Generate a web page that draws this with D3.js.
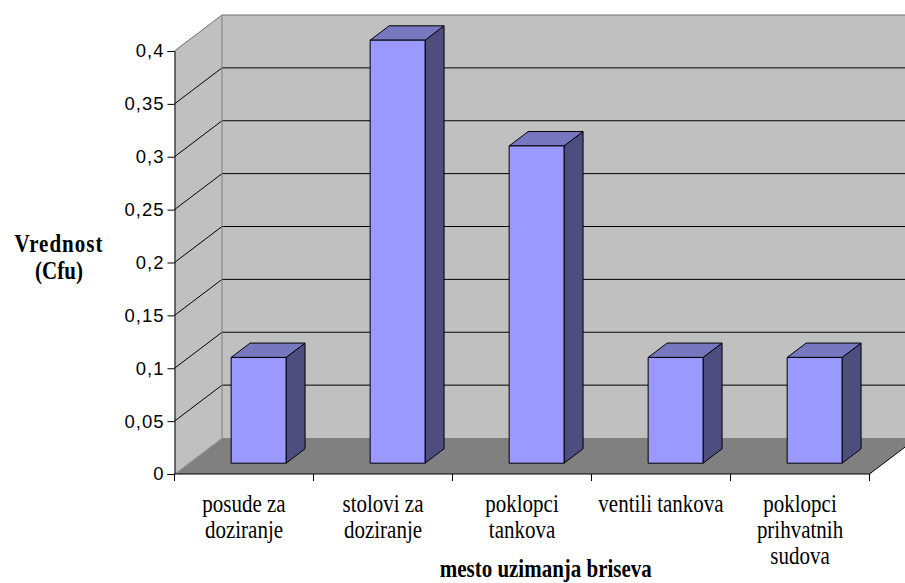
<!DOCTYPE html>
<meta charset="utf-8">
<script src="https://d3js.org/d3.v7.min.js"></script>
<style>
  body { margin: 0; background: #fff; }
  .tick text { font-family: "Liberation Sans", Arial, sans-serif; font-size: 18.5px; letter-spacing: 1px; fill: #000; }
</style>
<body>
<div id="my_dataviz"></div>
<script>

// data
var categories = ["posude za doziranje", "stolovi za doziranje", "poklopci tankova", "ventili tankova", "poklopci prihvatnih sudova"];
var categoryLines = [["posude za", "doziranje"], ["stolovi za", "doziranje"], ["poklopci", "tankova"], ["ventili tankova"], ["poklopci", "prihvatnih", "sudova"]];
var values = [0.1, 0.4, 0.3, 0.1, 0.1];
var yTicks = [0, 0.05, 0.1, 0.15, 0.2, 0.25, 0.3, 0.35, 0.4];
var yTickLabels = ["0", "0,05", "0,1", "0,15", "0,2", "0,25", "0,3", "0,35", "0,4"];
var xTitle = "mesto uzimanja briseva";
var yTitle = ["Vrednost", "(Cfu)"];

var W = 905, H = 583;
var serif = "'Liberation Serif', 'Times New Roman', 'DejaVu Serif', serif";
var stretch = 1.15; // text in the reference is a bit taller than wide
// depth offset of the 3d box
var depthX = 47.5, depthY = 36;

var svg = d3.select("#my_dataviz")
  .append("svg")
    .attr("width", W)
    .attr("height", H);

var x = d3.scaleBand()
  .domain(categories)
  .range([174.5, 869.5]);

var y = d3.scaleLinear()
  .domain([0, 0.4])
  .range([474, 51]);

// oblique projection: position on the front plane pushed back by depth d (0..1)
function P(px, v, d) {
  return [px + d * depthX, y(v) - d * depthY];
}
function poly(pts) {
  return pts.map(function(p) { return p.join(","); }).join(" ");
}

var x0 = x.range()[0], x1 = x.range()[1];
var xWallEnd = x1 + depthX;

// left wall
svg.append("polygon")
  .attr("points", poly([P(x0, 0, 0), P(x0, 0.4, 0), P(x0, 0.4, 1), P(x0, 0, 1)]))
  .attr("fill", "#c0c0c0");

// back wall
svg.append("polygon")
  .attr("points", poly([P(x0, 0, 1), P(x0, 0.4, 1), P(x1, 0.4, 1), P(x1, 0, 1)]))
  .attr("fill", "#c0c0c0");

// floor
svg.append("polygon")
  .attr("points", poly([P(x0, 0, 0), P(x0, 0, 1), P(x1, 0, 1), P(x1, 0, 0)]))
  .attr("fill", "#808080");

// gridlines
yTicks.slice(1).forEach(function(t) {
  var edge = t === 0.4;
  var a = P(x0, t, 0), b = P(x0, t, 1), c = P(x1, t, 1);
  svg.append("polyline")
    .attr("points", poly([a, b, c]))
    .attr("fill", "none")
    .attr("stroke", edge ? "#707070" : "#000")
    .attr("stroke-width", 1);
});

// back wall left edge
svg.append("line")
  .attr("x1", P(x0, 0, 1)[0]).attr("y1", P(x0, 0, 1)[1])
  .attr("x2", P(x0, 0.4, 1)[0]).attr("y2", P(x0, 0.4, 1)[1])
  .attr("stroke", "#808080");

// floor edges
svg.append("line")
  .attr("x1", P(x0, 0, 0)[0]).attr("y1", P(x0, 0, 0)[1])
  .attr("x2", P(x0, 0, 1)[0]).attr("y2", P(x0, 0, 1)[1])
  .attr("stroke", "#a0a0a0");
svg.append("line")
  .attr("x1", P(x1, 0, 0)[0]).attr("y1", P(x1, 0, 0)[1])
  .attr("x2", P(x1, 0, 1)[0]).attr("y2", P(x1, 0, 1)[1])
  .attr("stroke", "#000");

// bars
var d0 = 0.3, d1 = 0.7;
var bw = x.bandwidth();
var bars = svg.append("g")
  .selectAll("g")
  .data(categories)
  .enter()
  .append("g");

bars.each(function(c, i) {
  var g = d3.select(this);
  var v = values[i];
  var a = x(c) + bw * 0.305, b = x(c) + bw * 0.70;
  // side
  g.append("polygon")
    .attr("points", poly([P(b, 0, d0), P(b, 0, d1), P(b, v, d1), P(b, v, d0)]))
    .attr("fill", "#4d4d80").attr("stroke", "#000").attr("stroke-linejoin", "round");
  // top
  g.append("polygon")
    .attr("points", poly([P(a, v, d0), P(b, v, d0), P(b, v, d1), P(a, v, d1)]))
    .attr("fill", "#7777c0").attr("stroke", "#000").attr("stroke-linejoin", "round");
  // front
  g.append("polygon")
    .attr("points", poly([P(a, 0, d0), P(b, 0, d0), P(b, v, d0), P(a, v, d0)]))
    .attr("fill", "#9999ff").attr("stroke", "#000").attr("stroke-linejoin", "round");
});

// Y axis
svg.append("g")
  .attr("transform", "translate(" + x0 + ",0)")
  .call(d3.axisLeft(y)
    .tickValues(yTicks)
    .tickFormat(function(d, i) { return yTickLabels[i]; })
    .tickSize(7)
    .tickPadding(3))
  .call(function(g) {
    g.select(".domain").attr("stroke", "#000");
    g.selectAll(".tick line").attr("stroke", "#000");
  });

// X axis line and ticks at band boundaries
svg.append("line")
  .attr("x1", x0).attr("x2", x1)
  .attr("y1", y(0)).attr("y2", y(0))
  .attr("stroke", "#000");
var bounds = categories.map(function(c) { return x(c); }).concat([x1]);
svg.append("g").selectAll("line")
  .data(bounds)
  .enter()
  .append("line")
    .attr("x1", function(d) { return d; })
    .attr("x2", function(d) { return d; })
    .attr("y1", y(0))
    .attr("y2", y(0) + 7)
    .attr("stroke", "#000");

// category labels
categories.forEach(function(c, i) {
  var t = svg.append("text")
    .attr("font-family", serif)
    .attr("font-size", 21)
    .attr("fill", "#000")
    .attr("text-anchor", "middle")
    .attr("transform", "translate(" + (x(c) + bw / 2) + ",512) scale(1," + stretch + ")");
  categoryLines[i].forEach(function(line, j) {
    t.append("tspan")
      .attr("x", 0)
      .attr("y", j * 26 / stretch)
      .text(line);
  });
});

// axis titles
svg.append("text")
  .attr("font-family", serif)
  .attr("font-size", 21)
  .attr("font-weight", "bold")
  .attr("text-anchor", "middle")
  .attr("transform", "translate(" + ((x0 + xWallEnd) / 2) + ",577) scale(1," + stretch + ")")
  .text(xTitle);

yTitle.forEach(function(line, j) {
  svg.append("text")
    .attr("font-family", serif)
    .attr("font-size", 21)
    .attr("font-weight", "bold")
    .attr("text-anchor", "middle")
    .attr("letter-spacing", j === 0 ? 1 : 0)
    .attr("transform", "translate(59," + (252 + j * 27) + ") scale(1," + stretch + ")")
    .text(line);
});

</script>
</body>
